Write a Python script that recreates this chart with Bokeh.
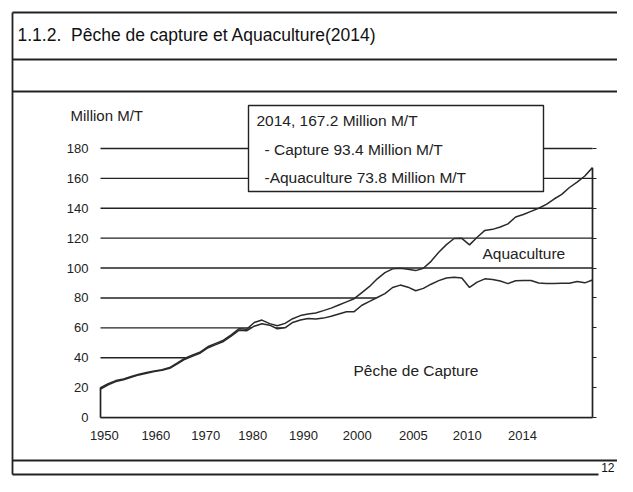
from bokeh.plotting import figure
from bokeh.models import Range1d, FixedTicker, LinearAxis, BoxAnnotation, Label, ColumnDataSource
from bokeh.embed import file_html
from bokeh.resources import INLINE

# ---------------- data ----------------
years = list(range(1950, 2015))
total = [20.0, 22.6, 24.7, 25.8, 27.4, 29.0, 30.1, 31.2, 32.0, 33.4,
         36.5, 39.7, 41.8, 43.9, 47.5, 49.6, 51.7, 55.3, 59.4, 59.0,
         63.6, 65.2, 62.8, 61.4, 63.0, 66.1, 68.2, 69.3, 69.9, 71.5,
         73.2, 75.3, 77.4, 79.5, 83.6, 87.7, 92.8, 96.9, 99.5, 99.9,
         99.2, 98.3, 99.9, 104.5, 110.6, 115.7, 119.8, 119.9, 115.5, 120.6,
         125.2, 125.9, 127.5, 129.6, 134.2, 135.8, 137.9, 140.0, 142.6, 146.2,
         149.3, 153.9, 157.5, 161.6, 167.2]
capture = [19.0, 21.9, 24.0, 25.3, 26.9, 28.5, 29.6, 30.7, 31.6, 32.9,
           35.9, 39.0, 41.1, 43.2, 46.7, 48.8, 50.9, 54.4, 58.3, 58.0,
           61.1, 62.7, 61.8, 59.4, 60.0, 63.6, 65.2, 66.3, 65.9, 66.5,
           67.7, 69.3, 70.7, 70.8, 75.1, 77.7, 80.3, 82.9, 87.0, 88.6,
           87.2, 84.8, 86.4, 89.2, 91.6, 93.4, 93.8, 93.4, 87.0, 90.6,
           92.8, 92.4, 91.3, 89.6, 91.5, 91.6, 91.7, 90.0, 89.6, 89.7,
           89.8, 89.9, 91.0, 90.1, 92.0]
y_ticks = [0, 20, 40, 60, 80, 100, 120, 140, 160, 180]
x_tick_labels = ["1950", "1960", "1970", "1980", "1990", "2000", "2005", "2010", "2014"]
x_tick_pos = [1950.5, 1957.2, 1963.7, 1969.8, 1976.4, 1983.4, 1990.7, 1997.7, 2004.9]
summary_year = 2014
summary_total = 167.2
summary_capture = 93.4
summary_aqua = 73.8

# ---------------- helpers (canvas pixel -> data) ----------------
W, H = 617, 476

def px2x(px):
    return 1950 + (px - 100) * 64 / 492

def py2y(py):
    return (417 - py) * 180 / 269

FONT = "Liberation Sans"
INK = "#222222"

p = figure(width=W, height=H, x_range=Range1d(px2x(0), px2x(W)), y_range=Range1d(py2y(H), py2y(0)),
           output_backend="svg", toolbar_location=None, title=None,
           min_border_left=0, min_border_right=0, min_border_top=0, min_border_bottom=0)
p.outline_line_color = None
p.background_fill_color = "white"
p.border_fill_color = "white"
p.xgrid.visible = False
p.ygrid.visible = False

# axes, pinned to the chart's own edges
xa = p.xaxis[0]
xa.fixed_location = 0
xa.ticker = FixedTicker(ticks=x_tick_pos)
xa.major_label_overrides = {pos: lab for pos, lab in zip(x_tick_pos, x_tick_labels)}
ya = p.yaxis[0]
ya.fixed_location = years[0]
ya.ticker = FixedTicker(ticks=y_ticks)
for ax in (xa, ya):
    ax.axis_line_color = None
    ax.major_tick_line_color = None
    ax.minor_tick_line_color = None
    ax.major_tick_out = 0
    ax.major_tick_in = 0
    ax.major_label_text_font = FONT
    ax.major_label_text_font_size = "13px"
    ax.major_label_text_color = INK
xa.major_label_standoff = 13
ya.major_label_standoff = 12

ra = LinearAxis(ticker=FixedTicker(ticks=y_ticks), fixed_location=years[-1])
ra.axis_line_color = None
ra.major_tick_in = 0
ra.major_tick_out = 4
ra.major_tick_line_color = INK
ra.minor_tick_line_color = None
ra.major_label_text_color = None
ra.major_label_text_font_size = "10px"
p.add_layout(ra, "right")

# horizontal rules at each y tick, across the years of the series
p.segment(x0=years[0], x1=years[-1], y0=y_ticks, y1=y_ticks, line_color=INK, line_width=1.4)

# data
src = ColumnDataSource(dict(year=years, total=total, capture=capture))
p.varea(x="year", y1=0, y2="capture", source=src, fill_color="white", fill_alpha=1)
p.line(x="year", y="capture", source=src, line_color="#2a2a2a", line_width=1.5)
p.line(x="year", y="total", source=src, line_color="#2a2a2a", line_width=1.5)
p.segment(x0=[years[0], years[-1], years[0]], y0=[0, 0, 0],
          x1=[years[0], years[-1], years[-1]], y1=[total[0], total[-1], 0],
          line_color=INK, line_width=1.7)

# summary box
p.add_layout(BoxAnnotation(left=px2x(248), right=px2x(543), top=py2y(105), bottom=py2y(191),
                           fill_color="white", fill_alpha=1, line_color=INK, line_width=1.4,
                           line_alpha=1))
box_lines = [
    (256, 120, f"{summary_year}, {summary_total} Million M/T"),
    (264, 149, f"- Capture {summary_capture} Million M/T"),
    (264, 177, f"-Aquaculture {summary_aqua} Million M/T"),
]
for bx, by, t in box_lines:
    p.add_layout(Label(x=px2x(bx), y=py2y(by), text=t, text_baseline="middle",
                       text_font=FONT, text_font_size="15.5px", text_color=INK))

p.add_layout(Label(x=px2x(482), y=py2y(253), text="Aquaculture", text_baseline="middle",
                   text_font=FONT, text_font_size="15.5px", text_color=INK))
p.add_layout(Label(x=px2x(353), y=py2y(370), text="Pêche de Capture", text_baseline="middle",
                   text_font=FONT, text_font_size="15.5px", text_color=INK))
p.add_layout(Label(x=px2x(70), y=py2y(115), text="Million M/T", text_baseline="middle",
                   text_font=FONT, text_font_size="15px", text_color=INK))

# slide decorations (frame of the slide, title band, footer)
deco_x0 = [px2x(12), px2x(12), px2x(12), px2x(12), px2x(12), px2x(12)]
deco_y0 = [py2y(12), py2y(12), py2y(59), py2y(91), py2y(460), py2y(474)]
deco_x1 = [px2x(W), px2x(12), px2x(W), px2x(W), px2x(W), px2x(598)]
deco_y1 = [py2y(12), py2y(474), py2y(59), py2y(91), py2y(460), py2y(474)]
p.segment(x0=deco_x0, y0=deco_y0, x1=deco_x1, y1=deco_y1, line_color=INK, line_width=1.8)

p.add_layout(Label(x=px2x(17), y=py2y(34), text="1.1.2.\u00a0 Pêche de capture et Aquaculture(2014)",
                   text_baseline="middle", text_font=FONT, text_font_size="17.5px", text_color="#111111"))
p.add_layout(Label(x=px2x(614), y=py2y(467), text="12", text_align="right", text_baseline="middle",
                   text_font=FONT, text_font_size="12px", text_color="#111111"))

open("out.html", "w").write(file_html(p, INLINE))
